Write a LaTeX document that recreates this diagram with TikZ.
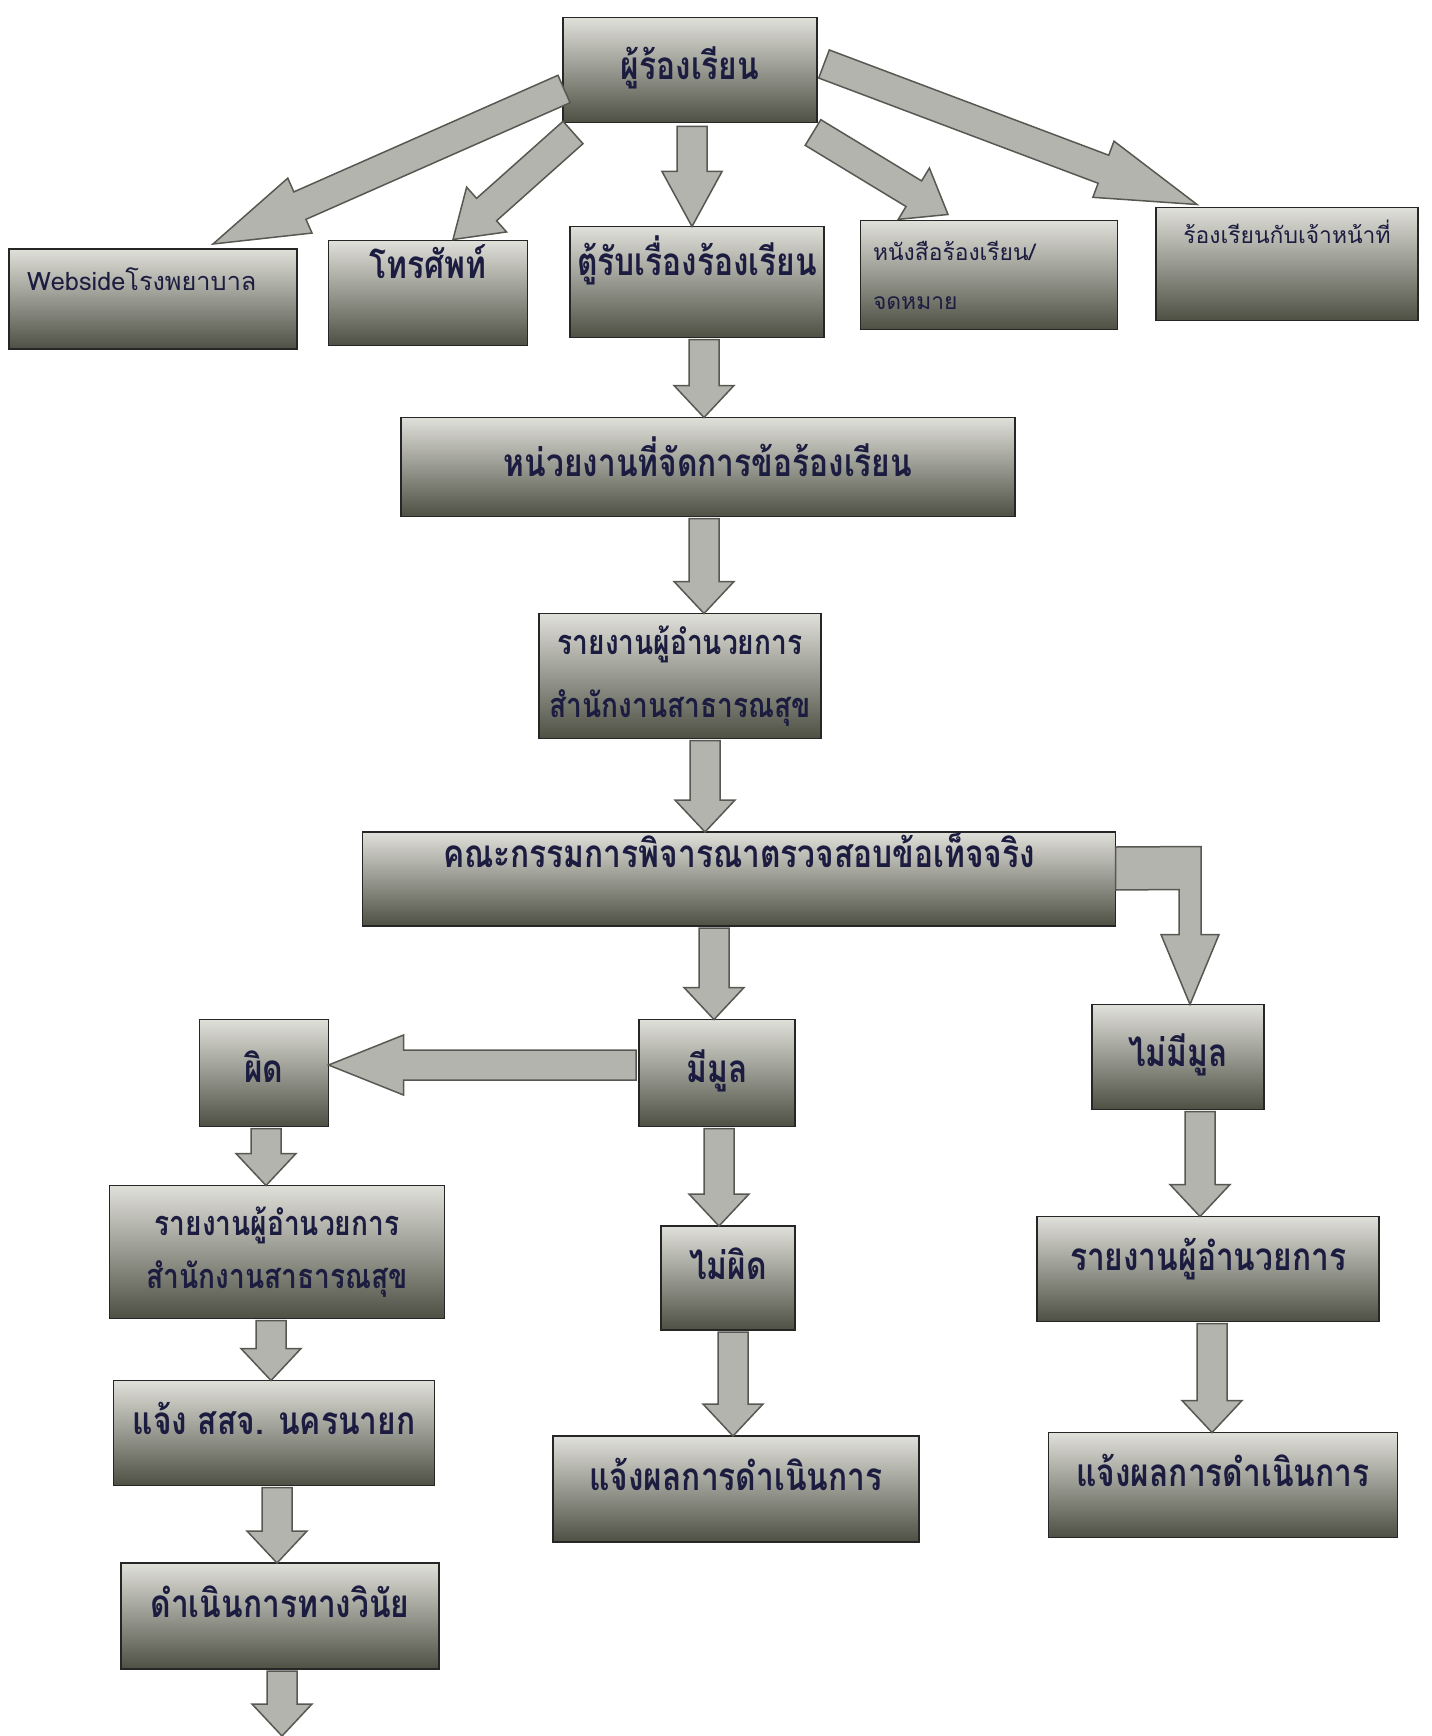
\documentclass[tikz,border=0pt]{standalone}
\usepackage{fontspec}
\newfontfamily\thaifont[Script=Thai,FakeStretch=0.82]{Loma}
\newfontfamily\thaiplain[Script=Thai]{Loma}
\usetikzlibrary{calc,positioning}

\definecolor{boxtop}{RGB}{224,224,218}
\definecolor{boxmid}{RGB}{172,173,162}
\definecolor{boxbot}{RGB}{78,80,68}
\definecolor{arrowfill}{RGB}{180,180,174}
\definecolor{arrowline}{RGB}{88,88,82}
\definecolor{inkblue}{RGB}{28,28,64}

% block arrow from #2 to #3, head length #1
\newcommand\blockarrow[3][6.4mm]{%
  \coordinate (headM) at ($(#3)!#1!(#2)$);
  \draw[blockarr] ($(#2)!3mm!90:(#3)$) -- ($(headM)!3mm!90:(#3)$)
    -- ($(headM)!6mm!90:(#3)$) -- (#3) -- ($(headM)!6mm!-90:(#3)$)
    -- ($(headM)!3mm!-90:(#3)$) -- ($(#2)!3mm!-90:(#3)$) -- cycle;}

\begin{document}
\begin{tikzpicture}[x=0.2mm,y=-0.2mm,every node/.style={outer sep=0pt},
    rect/.style={draw=black!85,line width=0.35mm,top color=boxtop,
      middle color=boxmid,bottom color=boxbot,text=inkblue,inner sep=1pt,
      font=\thaifont\bfseries\fontsize{22}{32}\selectfont,
      text height=17pt,text depth=6pt},
    smalltext/.style={font=\thaiplain\fontsize{13}{28}\selectfont,
      text height=10pt,text depth=4pt},
    multiline/.style={align=center,text height=,text depth=,
      font=\thaifont\bfseries\fontsize{19.5}{36}\selectfont},
    boxsize/.style 2 args={minimum width=#1*0.2mm,minimum height=#2*0.2mm},
    blockarr/.style={fill=arrowfill,draw=arrowline,line width=0.3mm,
      line join=miter}]

  \fill[white] (0,0) rectangle (1431,1736);
  \useasboundingbox (0,0) rectangle (1431,1736);

  % top row
  \node[rect,smalltext,boxsize={254}{105},
    font=\thaifont\bfseries\fontsize{22}{32}\selectfont,
    text height=17pt,text depth=6pt] (comp) at (690,70) {ผู้ร้องเรียน};
  \node[rect,smalltext,boxsize={288}{100},text depth=20pt,
    font=\thaiplain\fontsize{14.4}{28}\selectfont,
    text width=252*0.2mm,align=left] (web) at (153,299)
    {Websideโรงพยาบาล};
  \node[rect,boxsize={199}{105},text depth=33pt] (tel) at (428,293) {โทรศัพท์};
  \node[rect,boxsize={254}{111},text depth=24pt] (box) at (697,282)
    {ตู้รับเรื่องร้องเรียน};
  \node[rect,smalltext,boxsize={257}{109},align=left,text width=232*0.2mm,
    text height=,text depth=] (letter) at (989,275)
    {หนังสือร้องเรียน/\\จดหมาย};
  \node[rect,smalltext,boxsize={262}{113},text depth=33pt] (staff) at (1287,264)
    {ร้องเรียนกับเจ้าหน้าที่};

  % middle column
  \node[rect,boxsize={614}{99}] (unit) at (708,467) {หน่วยงานที่จัดการข้อร้องเรียน};
  \node[rect,multiline,boxsize={282}{125}] (rep1) at (680,676)
    {รายงานผู้อำนวยการ\\สำนักงานสาธารณสุข};
  \node[rect,boxsize={753}{94},text depth=30pt] (comm) at (739,879)
    {คณะกรรมการพิจารณาตรวจสอบข้อเท็จจริง};

  % results
  \node[rect,boxsize={129}{107}] (wrong) at (264,1073) {ผิด};
  \node[rect,boxsize={156}{107}] (basis) at (717,1073) {มีมูล};
  \node[rect,boxsize={172}{105}] (nobasis) at (1178,1057) {ไม่มีมูล};
  \node[rect,multiline,boxsize={335}{133},
    font=\thaifont\bfseries\fontsize{19.5}{30}\selectfont] (rep2) at (277,1252)
    {รายงานผู้อำนวยการ\\สำนักงานสาธารณสุข};
  \node[rect,boxsize={134}{104},text depth=15pt] (right) at (728,1278) {ไม่ผิด};
  \node[rect,boxsize={342}{105},text depth=15pt] (rep3) at (1208,1269)
    {รายงานผู้อำนวยการ};
  \node[rect,boxsize={321}{105},text depth=15pt] (notify) at (274,1433)
    {แจ้ง สสจ. นครนายก};
  \node[rect,boxsize={366}{106},text depth=15pt] (res1) at (736,1489)
    {แจ้งผลการดำเนินการ};
  \node[rect,boxsize={349}{105},text depth=15pt] (res2) at (1223,1485)
    {แจ้งผลการดำเนินการ};
  \node[rect,boxsize={318}{106},text depth=15pt] (disc) at (280,1616)
    {ดำเนินการทางวินัย};

  % arrows out of the top box
  \coordinate (a1s) at ($(comp.west)+(1,19)$);
  \coordinate (a1e) at ($(web.north)+(60,-5)$);
  \blockarrow[19mm]{a1s}{a1e}
  \coordinate (a2s) at ($(comp.south west)+(10,10)$);
  \coordinate (a2e) at ($(tel.north)+(25,-1)$);
  \blockarrow[9mm]{a2s}{a2e}
  \coordinate (a3s) at ($(comp.south)+(2,4)$);
  \coordinate (a3e) at (a3s |- box.north);
  \blockarrow[11mm]{a3s}{a3e}
  \coordinate (a4s) at ($(comp.south east)+(-4,10)$);
  \coordinate (a4e) at ($(letter.north)+(-41,-6)$);
  \blockarrow[8mm]{a4s}{a4e}
  \coordinate (a5s) at ($(comp.east)+(7,-6)$);
  \coordinate (a5e) at ($(staff.north)+(-90,-3)$);
  \blockarrow[20mm]{a5s}{a5e}

  % straight down arrows
  \foreach \s/\t/\dx in {box/unit/7,unit/rep1/-4,rep1/comm/25,comm/basis/-25,
      basis/right/2,wrong/rep2/2,rep2/notify/-6,notify/disc/3,right/res1/5,
      nobasis/rep3/22,rep3/res2/4}
  {
    \coordinate (s) at ($(\s.south)+(\dx,2)$);
    \coordinate (t) at (s |- \t.north);
    \blockarrow{s}{t}
  }
  \coordinate (ds) at ($(disc.south)+(2,2)$);
  \coordinate (de) at (ds |- 0,1736);
  \blockarrow{ds}{de}

  % sideways to "wrong"
  \coordinate (ws) at ($(basis.west)+(-3,-8)$);
  \coordinate (we) at (ws -| wrong.east);
  \blockarrow[15mm]{ws}{we}

  % elbow to "no basis"
  \coordinate (T) at ($(nobasis.north)+(12,0)$);
  \draw[blockarr] ($(comm.east)+(0,-32)$) -- ($(T)+(11,-158)$)
    -- ($(T)+(11,-70)$) -- ($(T)+(29,-70)$) -- (T) -- ($(T)+(-29,-70)$)
    -- ($(T)+(-11,-70)$) -- ($(T)+(-11,-115)$) -- ($(comm.east)+(0,11)$)
    -- cycle;
\end{tikzpicture}
\end{document}
